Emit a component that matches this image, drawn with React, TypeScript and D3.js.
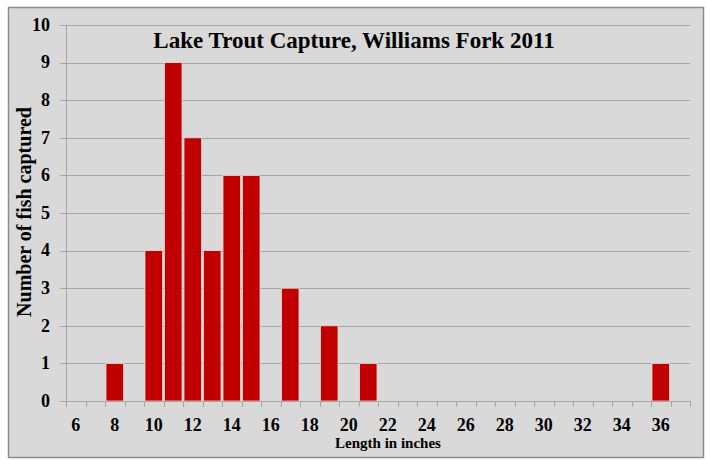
import React from "react";
import * as d3 from "d3";

// Length classes (inches) on the x axis, 6 through 37
const lengths: number[] = d3.range(6, 38);
// Number of fish captured per length class
const capturedLengths: number[] = [8, 10, 11, 12, 13, 14, 15, 17, 19, 21, 36];
const capturedCounts: number[] = [1, 4, 9, 7, 4, 6, 6, 3, 2, 1, 1];
const xTickLabels: number[] = [6, 8, 10, 12, 14, 16, 18, 20, 22, 24, 26, 28, 30, 32, 34, 36];
const yTicks: number[] = [0, 1, 2, 3, 4, 5, 6, 7, 8, 9, 10];

const W = 707;
const H = 460;
const margin = { left: 66, right: 17, top: 25, bottom: 59 };
const font = "Liberation Serif";
const gridColor = "#a6a6a6";

export default function App() {
  const x = d3
    .scaleBand<number>()
    .domain(lengths)
    .range([margin.left, W - margin.right])
    .padding(0);

  const y = d3
    .scaleLinear()
    .domain([0, 10])
    .range([H - margin.bottom, margin.top]);

  const bars = capturedLengths.map((len, i) => ({ len, count: capturedCounts[i] }));
  const boundaries = lengths.map((d) => x(d) as number).concat([W - margin.right]);
  const px = (v: number) => Math.round(v) + 0.5;

  return (
    <div style={{ position: "absolute", left: 0, top: 0 }}>
      <svg width={W} height={H} style={{ display: "block", background: "#fff" }}>
        {/* chart area background + frame */}
        <rect x={8.5} y={7.5} width={695} height={450} fill="#d9d9d9" stroke="#8c8c8c" strokeWidth={1.5} />

        {/* gridlines */}
        {yTicks
          .filter((d) => d > 0)
          .map((d) => (
            <line key={"g" + d} x1={margin.left} x2={W - margin.right} y1={px(y(d))} y2={px(y(d))} stroke={gridColor} />
          ))}

        {/* bars */}
        {bars.map((d) => (
          <rect
            key={d.len}
            x={(x(d.len) as number) + 1}
            width={x.bandwidth() - 2}
            y={y(d.count)}
            height={y(0) - y(d.count)}
            fill="#c00000"
            stroke="#f0d8d8"
            strokeWidth={0.8}
          />
        ))}

        {/* y axis */}
        <line x1={margin.left + 0.5} x2={margin.left + 0.5} y1={y(10)} y2={y(0)} stroke={gridColor} />
        {yTicks.map((d) => (
          <g key={"y" + d}>
            <line x1={margin.left - 6} x2={margin.left} y1={px(y(d))} y2={px(y(d))} stroke={gridColor} />
            <text
              x={margin.left - 16}
              y={y(d)}
              dy="0.32em"
              textAnchor="end"
              fontFamily={font}
              fontWeight="bold"
              fontSize={18}
              fill="#000"
            >
              {d}
            </text>
          </g>
        ))}

        {/* x axis */}
        <line x1={margin.left} x2={W - margin.right} y1={px(y(0))} y2={px(y(0))} stroke={gridColor} />
        {boundaries.map((b, i) => (
          <line key={"t" + i} x1={px(b)} x2={px(b)} y1={y(0)} y2={y(0) + 6} stroke={gridColor} />
        ))}
        {xTickLabels.map((d) => (
          <text
            key={"x" + d}
            x={(x(d) as number) + x.bandwidth() / 2}
            y={431}
            textAnchor="middle"
            fontFamily={font}
            fontWeight="bold"
            fontSize={18}
            fill="#000"
          >
            {d}
          </text>
        ))}

        {/* titles */}
        <text x={354} y={48} textAnchor="middle" fontFamily={font} fontWeight="bold" fontSize={23}>
          Lake Trout Capture, Williams Fork 2011
        </text>
        <text x={388} y={448} textAnchor="middle" fontFamily={font} fontWeight="bold" fontSize={15}>
          Length in inches
        </text>
        <text
          transform="translate(31, 212) rotate(-90)"
          textAnchor="middle"
          fontFamily={font}
          fontWeight="bold"
          fontSize={20}
        >
          Number of fish captured
        </text>
      </svg>
    </div>
  );
}
